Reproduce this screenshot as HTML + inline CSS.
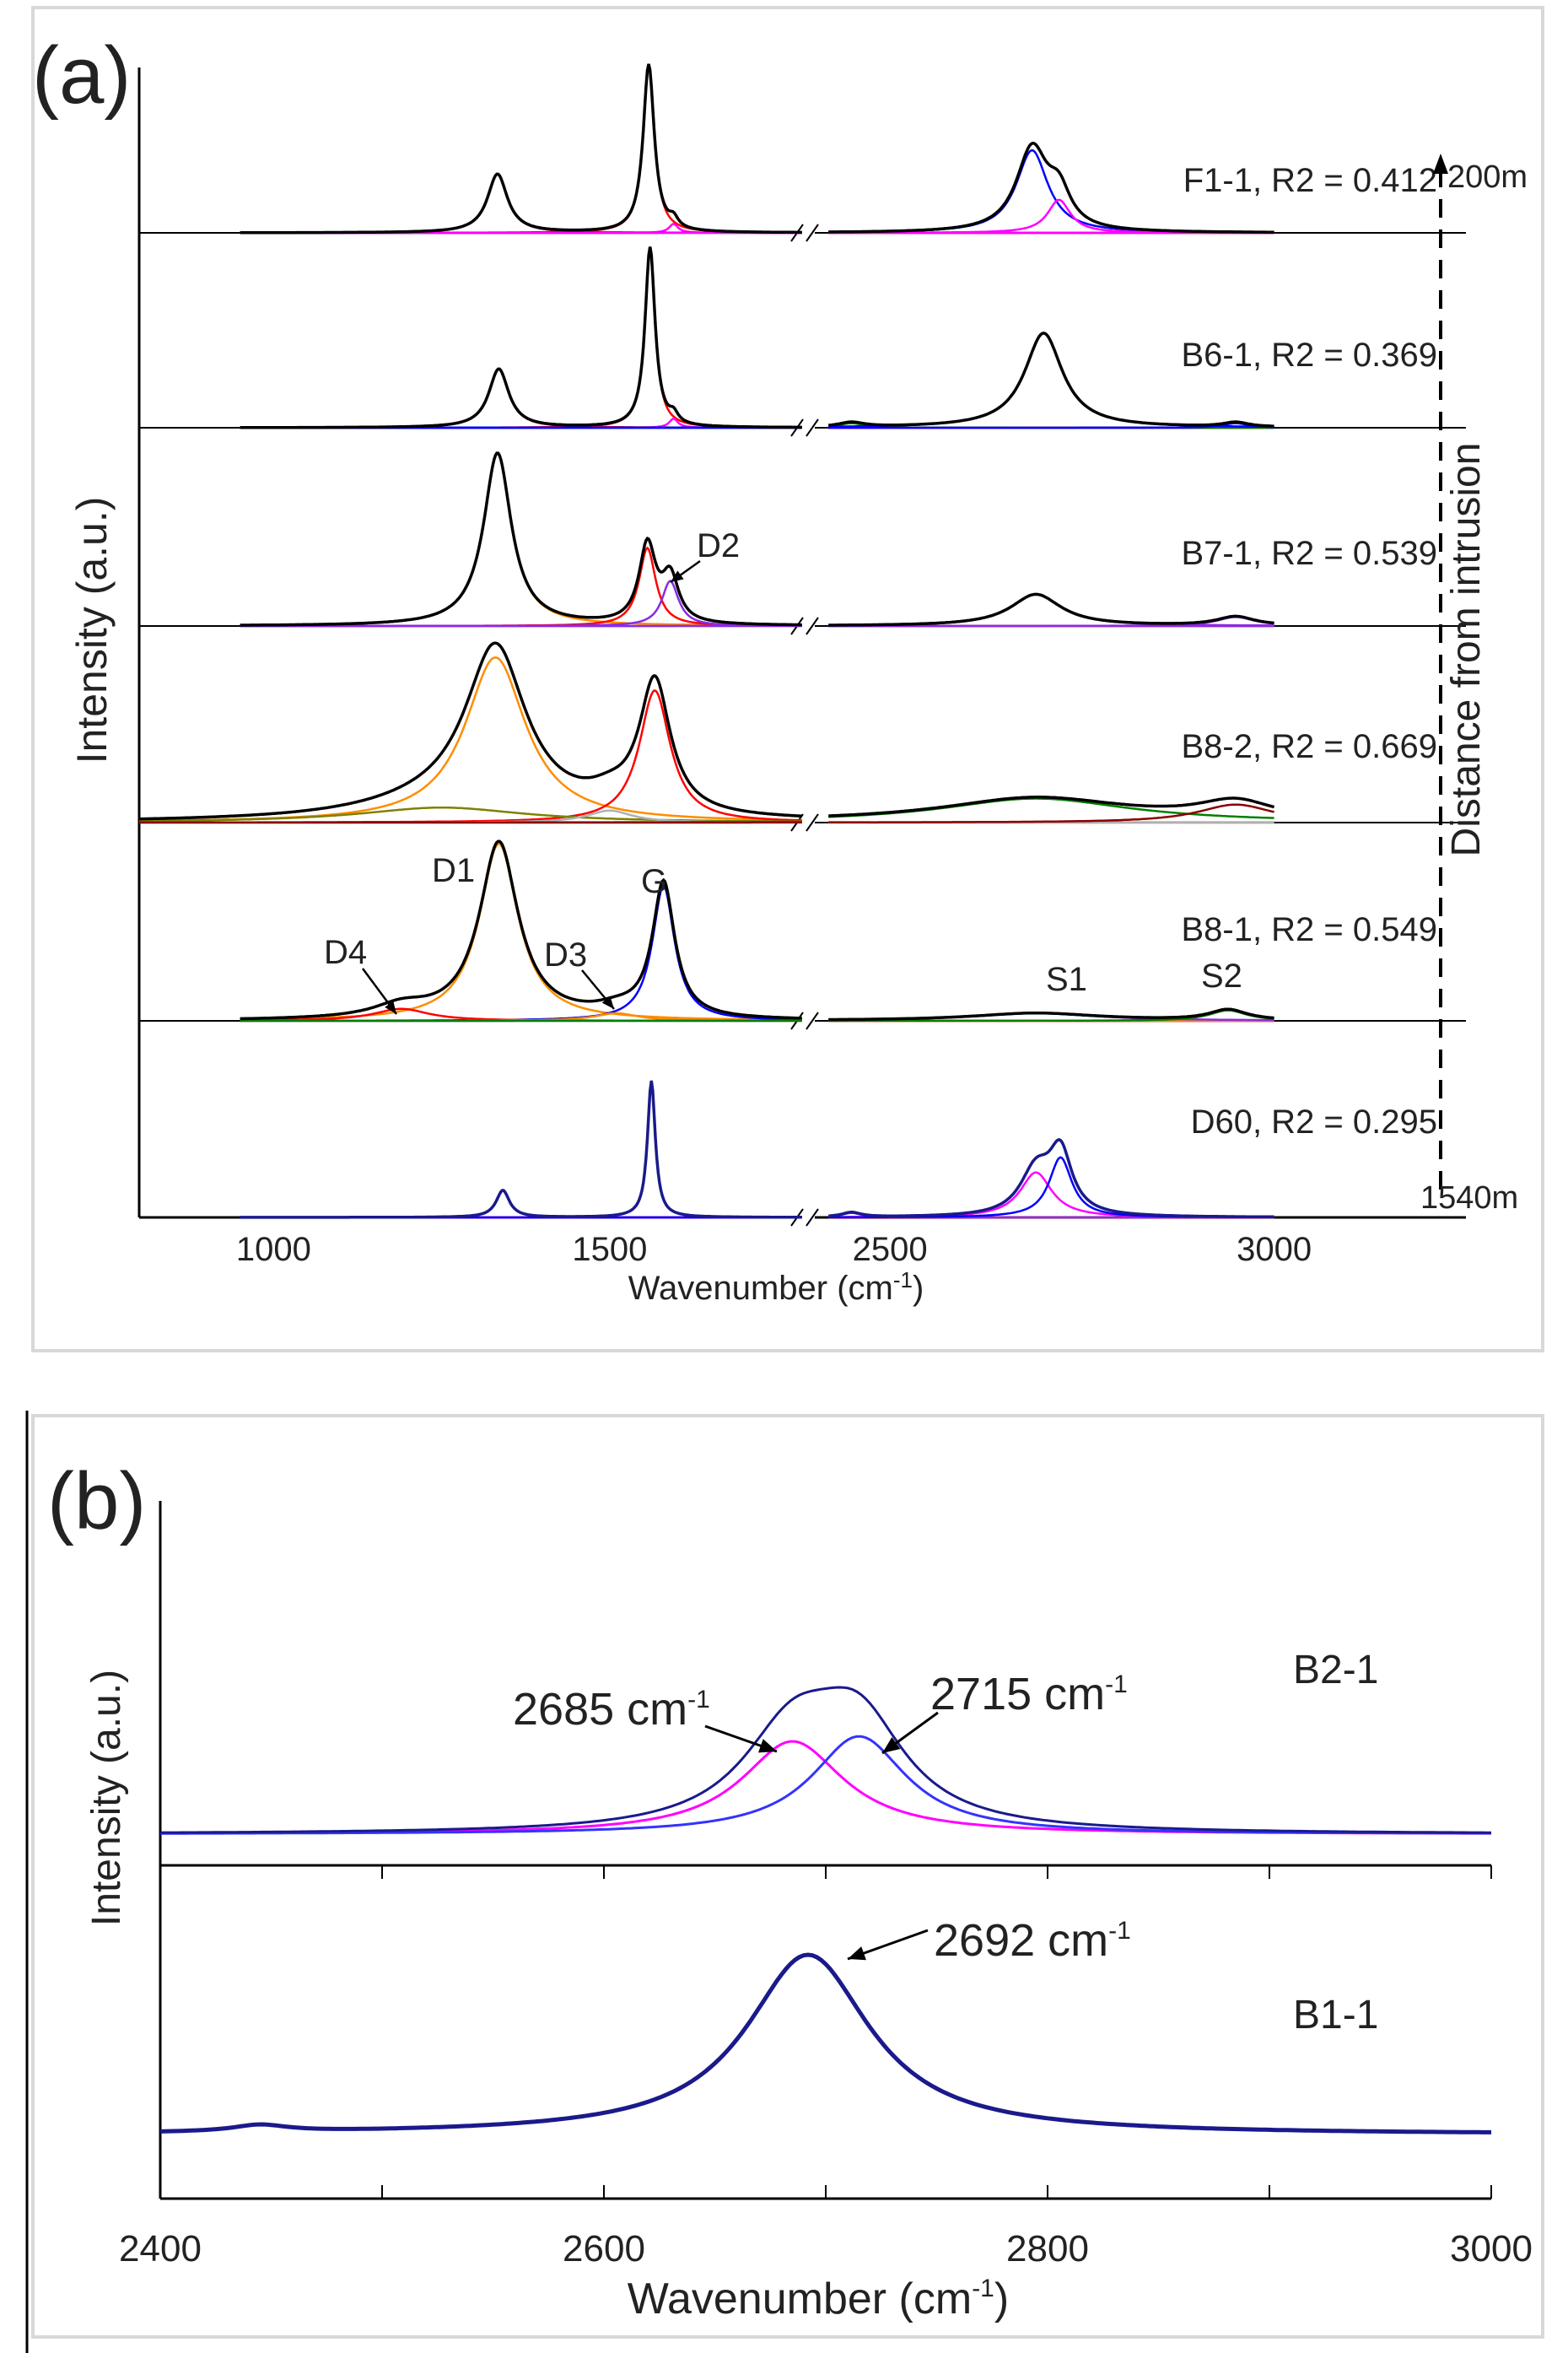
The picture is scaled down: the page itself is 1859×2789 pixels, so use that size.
<!DOCTYPE html>
<html><head><meta charset="utf-8"><style>
html,body{margin:0;padding:0;background:#fff;}
svg{display:block;font-family:"Liberation Sans",Arial,sans-serif;}
</style></head><body>
<svg id="chart" width="1859" height="2789" viewBox="0 0 1859 2789" xmlns="http://www.w3.org/2000/svg">
<rect x="39" y="9" width="1790" height="1592" fill="none" stroke="#d8d8d8" stroke-width="4"/>
<rect x="39" y="1678" width="1790" height="1092" fill="none" stroke="#d8d8d8" stroke-width="4"/>
<line x1="32" y1="1672" x2="32" y2="2789" stroke="#000" stroke-width="3"/>
<g id="pa"></g>
<g id="pb"></g>
</svg>
<script>
// ---- Panel (a) data ----
const sampleNames = ['F1-1, R2 = 0.412','B6-1, R2 = 0.369','B7-1, R2 = 0.539','B8-2, R2 = 0.669','B8-1, R2 = 0.549','D60, R2 = 0.295'];
const baselines = [276,507,742,975,1210,1443];
const labelYs = [227,434,669,898,1115,1343];
const peakCenters = [
 [1333,1558,1595,2685,2720],
 [1335,1560,1595,2450,2700,2950],
 [1333,1556,1590,2690,2950],
 [1330,1567,1250,1500,2690,2950],
 [1335,1580,1190,1510,2690,2940],
 [1341,1562,2450,2690,2722]
];
const peakHeights = [
 [39,112,6,55,22],
 [39,120,6,3,63,3],
 [115,52,30,21,6],
 [110,88,10,8,16,12],
 [118,90,8,5,5,7],
 [18,91,3,30,40]
];
const peakWidths = [
 [18,10,8,25,18],
 [18,9,8,20,30,20],
 [25,15,15,40,30],
 [55,28,150,40,150,60],
 [35,20,50,40,100,30],
 [12,7,15,25,18]
];
const peakColors = [
 ['#e8007a','#ff0000','#ff00ff','#0000ff','#ff00ff'],
 ['#ff0000','#ff0000','#ff00ff','#008000','#0000ff','#0000ff'],
 ['#ff8c00','#ff0000','#8a2be2','#8a2be2','#8a2be2'],
 ['#ff8c00','#ff0000','#808000','#b0b0b0','#008000','#8b0000'],
 ['#ff8c00','#0000ff','#ff0000','#ff8c00','#8a2be2','#008000'],
 ['#000080','#ff0000','#8a2be2','#ff00ff','#0000ff']
];
const compositeColors = ['#000','#000','#000','#000','#000','#1a1a8c'];
const tickValuesA = [1000,1500,2500,3000];
const tickLabelsA = ['1000','1500','2500','3000'];

// ---- Panel (b) data ----
const bNames = ['B2-1','B1-1'];
const bBaselines = [2174,2530];
const bCenters = [[2685,2715],[2445,2692]];
const bHeights = [[110,116],[8,213]];
const bWidths = [[28,26],[15,34]];
const bColors = [['#ff00ff','#3333ff'],['#1a1a8c','#1a1a8c']];
const tickValuesB = [2400,2600,2800,3000];
const minorTicksB = [2500,2700,2900];

const NS='http://www.w3.org/2000/svg';
function mk(tag,attrs,parent,text){const e=document.createElementNS(NS,tag);for(const k in attrs)e.setAttribute(k,attrs[k]);if(text!==undefined)e.textContent=text;parent.appendChild(e);return e;}
const YS=1.779;
function xa(w){return w<2000?165+(w-800)*0.797:964+(w-2400)*0.911;}
function lor(w,c,h,g){return h/(1+((w-c)/g)*((w-c)/g));}
const pa=document.getElementById('pa');
mk('line',{x1:165,y1:80,x2:165,y2:1443,stroke:'#000','stroke-width':3},pa);
baselines.forEach((b,i)=>{
 const l=mk('line',{x1:165,y1:b,x2:1738,y2:b,stroke:'#000','stroke-width':i==5?3:2},pa);
 
 
});
baselines.forEach((b,i)=>{
 const g=mk('g',{},pa);
 
 
 mk('rect',{x:944,y:b-12,width:22,height:24,fill:'#fff'},g);
 mk('line',{x1:938,y1:b+10,x2:952,y2:b-10,stroke:'#000','stroke-width':2},g);
 mk('line',{x1:956,y1:b+10,x2:970,y2:b-10,stroke:'#000','stroke-width':2},g);
});
tickValuesA.forEach((v,i)=>{
 const t=mk('text',{x:xa(v),y:1494,'font-size':40,'text-anchor':'middle',fill:'#222'},pa,tickLabelsA[i]);
 
 
});
function curve(par,segs,fn,color,sw,name){
 let d='';
 segs.forEach(s=>{for(let w=s[0];w<=s[1];w+=2){d+=(w==s[0]?'M':'L')+xa(w).toFixed(1)+','+fn(w).toFixed(1);}});
 const p=mk('path',{d:d,fill:'none',stroke:color,'stroke-width':sw},par);
 
 
}
sampleNames.forEach((nm,i)=>{
 const b=baselines[i];
 const segs=[[i==3?800:950,1786],[2420,3000]];
 peakCenters[i].forEach((c,j)=>{
  curve(pa,segs,w=>b-YS*lor(w,c,peakHeights[i][j],peakWidths[i][j]),peakColors[i][j],2.5,'fit-peak-'+c);
 });
 curve(pa,segs,w=>{let s=0;peakCenters[i].forEach((c,j)=>{s+=lor(w,c,peakHeights[i][j],peakWidths[i][j]);});return b-YS*s;},compositeColors[i],3.5,'spectrum-'+nm.split(',')[0].toLowerCase());
 const t=mk('text',{x:1704,y:labelYs[i],'font-size':40,'text-anchor':'end',fill:'#222'},pa,nm);
 
 
});
</script>
<script>
(function(){
const pa=document.getElementById('pa');
function T(x,y,s,txt,name,extra){const e=mk('text',Object.assign({x:x,y:y,'font-size':s,fill:'#222'},extra||{}),pa,txt);return e;}
T(38,122,96,'(a)','panel-a-label');
T(126,747,50,'Intensity (a.u.)','y-axis-title-a',{'text-anchor':'middle',transform:'rotate(-90 126 747)'});
T(1754,770,48,'Distance from intrusion','distance-label',{'text-anchor':'middle',transform:'rotate(-90 1754 770)'});
const xt=T(920,1540,40,'Wavenumber (cm','x-axis-title-a',{'text-anchor':'middle'});
const ts=mk('tspan',{dy:-14,'font-size':26},xt,'-1');
const ts2=mk('tspan',{dy:14},xt,')');
const dl=mk('line',{x1:1708,y1:200,x2:1708,y2:1423,stroke:'#000','stroke-width':4,'stroke-dasharray':'22,14'},pa);

const ah=mk('polygon',{points:'1708,182 1699,206 1717,206',fill:'#000'},pa);

T(1716,222,38,'200m','distance-200m');
T(1684,1432,38,'1540m','distance-1540m');
T(826,660,40,'D2','label-d2');T(512,1045,40,'D1','label-d1');T(760,1058,40,'G','label-g');
T(384,1142,40,'D4','label-d4');T(645,1145,40,'D3','label-d3');T(1240,1174,40,'S1','label-s1');T(1424,1170,40,'S2','label-s2');
function arr(x1,y1,x2,y2,name){const g=mk('g',{},pa);
 mk('line',{x1:x1,y1:y1,x2:x2,y2:y2,stroke:'#000','stroke-width':2.5},g);
 const a=Math.atan2(y2-y1,x2-x1),L=16;
 mk('polygon',{points:`${x2},${y2} ${x2-L*Math.cos(a-0.4)},${y2-L*Math.sin(a-0.4)} ${x2-L*Math.cos(a+0.4)},${y2-L*Math.sin(a+0.4)}`,fill:'#000'},g);}
arr(830,665,795,690,'arrow-d2');arr(430,1148,470,1202,'arrow-d4');arr(690,1150,728,1196,'arrow-d3');
// ---- Panel b ----
const pb=document.getElementById('pb');
function xb(w){return 190+(w-2400)*2.63;}
const ax=mk('line',{x1:190,y1:1779,x2:190,y2:2606,stroke:'#000','stroke-width':3},pb);
[2211,2606].forEach((y,k)=>{const l=mk('line',{x1:190,y1:y,x2:1768,y2:y,stroke:'#000','stroke-width':3},pb);
 tickValuesB.concat(minorTicksB).forEach(v=>{const t=mk('line',{x1:xb(v),y1:y,x2:xb(v),y2:y+(k?-16:16),stroke:'#000','stroke-width':2},pb);});});
tickValuesB.forEach(v=>{const t=mk('text',{x:xb(v),y:2680,'font-size':44,'text-anchor':'middle',fill:'#222'},pb,String(v));});
bNames.forEach((nm,i)=>{
 const b=bBaselines[i];
 function path(fn,color,sw,name){let d='';for(let w=2400;w<=3000;w+=2){d+=(w==2400?'M':'L')+xb(w).toFixed(1)+','+fn(w).toFixed(1);}
  const p=mk('path',{d:d,fill:'none',stroke:color,'stroke-width':sw},pb);}
 if(i==0){bCenters[i].forEach((c,j)=>path(w=>b-lor(w,c,bHeights[i][j],bWidths[i][j]),bColors[i][j],3,'fit-peak-'+c));}
 path(w=>{let s=0;bCenters[i].forEach((c,j)=>{s+=lor(w,c,bHeights[i][j],bWidths[i][j]);});return b-s;},'#1a1a8c',i?5:3,'spectrum-'+nm.toLowerCase());
 const t=mk('text',{x:1533,y:i?2404:1995,'font-size':48,fill:'#222'},pb,nm);
});
function TB(x,y,s,txt,name,extra,sup){const e=mk('text',Object.assign({x:x,y:y,'font-size':s,fill:'#222'},extra||{}),pb,txt);
 if(sup){const a=mk('tspan',{dy:-20,'font-size':30},e,'-1');
 if(sup==2){const c=mk('tspan',{dy:20},e,')');}}return e;}
TB(56,1812,96,'(b)','panel-b-label');
TB(142,2131,48,'Intensity (a.u.)','y-axis-title-b',{'text-anchor':'middle',transform:'rotate(-90 142 2131)'});
TB(970,2742,52,'Wavenumber (cm','x-axis-title-b',{'text-anchor':'middle'},2);
TB(608,2044,54,'2685 cm','annot-2685',{},1);
TB(1103,2026,54,'2715 cm','annot-2715',{},1);
TB(1107,2318,54,'2692 cm','annot-2692',{},1);
function arrb(x1,y1,x2,y2,name){const g=mk('g',{},pb);
 mk('line',{x1:x1,y1:y1,x2:x2,y2:y2,stroke:'#000','stroke-width':3},g);
 const a=Math.atan2(y2-y1,x2-x1),L=22;
 mk('polygon',{points:`${x2},${y2} ${x2-L*Math.cos(a-0.4)},${y2-L*Math.sin(a-0.4)} ${x2-L*Math.cos(a+0.4)},${y2-L*Math.sin(a+0.4)}`,fill:'#000'},g);}
arrb(836,2046,921,2076,'arrow-2685');arrb(1112,2030,1046,2078,'arrow-2715');arrb(1100,2288,1005,2322,'arrow-2692');
})();
</script>
</body></html>
